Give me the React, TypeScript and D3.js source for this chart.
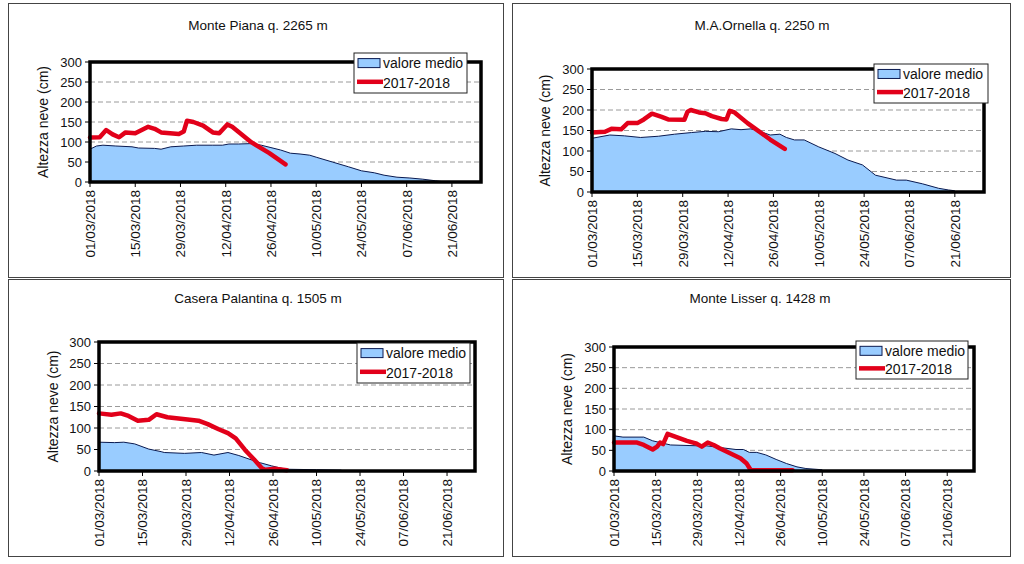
import React from "react";
import * as d3 from "d3";

// ---------- data (day offsets from 01/03/2018, snow depth in cm) ----------
const tickLabels = ["01/03/2018", "15/03/2018", "29/03/2018", "12/04/2018", "26/04/2018", "10/05/2018", "24/05/2018", "07/06/2018", "21/06/2018"];
const yTicks = [0, 50, 100, 150, 200, 250, 300];
const legendLabels = ["valore medio", "2017-2018"];

const titles = ["Monte Piana q. 2265 m", "M.A.Ornella q. 2250 m", "Casera Palantina q. 1505 m", "Monte Lisser q. 1428 m"];

const pianaAvgDays = [0, 2, 4, 8, 13, 15, 20, 22, 25, 29, 33, 38, 41, 43, 46, 50, 53, 56, 59, 62, 65, 68, 70, 75, 80, 84, 88, 91, 95, 99, 103, 107, 110];
const pianaAvgVals = [82, 90, 92, 90, 88, 85, 84, 82, 88, 90, 92, 92, 92, 95, 95, 96, 92, 86, 80, 72, 70, 67, 62, 50, 38, 28, 23, 17, 12, 10, 7, 3, 0];
const pianaRedDays = [0, 3, 5, 7, 9, 11, 14, 18, 20, 22, 27.5, 29, 30, 32, 35, 38, 40, 42.5, 44, 50, 55.5, 60.5];
const pianaRedVals = [111, 112, 130, 119, 112, 124, 122, 138, 133, 124, 120, 126, 153, 150, 141, 124, 122, 144, 138, 99, 72, 44];

const ornellaAvgDays = [0, 5.5, 10, 15, 20.5, 25.5, 30.7, 35, 39, 43, 46, 49, 51, 55, 58, 60, 62.5, 65.5, 70, 75, 79, 83.5, 87.5, 94, 97, 102, 107, 110, 112];
const ornellaAvgVals = [131, 139, 137, 133, 136, 141, 145, 148, 147, 154, 152, 154, 150, 139, 141, 133, 127, 127, 110, 94, 78, 66, 41, 29, 29, 20, 9, 5, 3];
const ornellaRedDays = [0, 4, 6, 9, 11, 14, 16, 18.5, 21.5, 23.5, 28.5, 29.5, 30.5, 33, 35, 37, 40, 41.5, 42.5, 44, 48, 51, 55, 59.5];
const ornellaRedVals = [145, 147, 154, 153, 168, 168, 177, 191, 183, 177, 176, 196, 200, 194, 192, 185, 178, 177, 198, 194, 168, 151, 128, 105];

const palantinaAvgDays = [0, 5, 8, 11.5, 16, 20, 21, 27.5, 33, 37, 41.5, 45, 49, 52, 55.5, 59, 61, 70, 78];
const palantinaAvgVals = [67, 66, 67, 63, 51, 45, 43, 41, 43, 37, 43, 36, 26, 19, 12, 6, 4, 3, 2];
const palantinaRedDays = [0, 4, 7, 9.5, 12.5, 16, 18.5, 22, 28.5, 32, 35, 38.5, 41.5, 44, 47, 50, 52.5, 53.5, 56.5, 60.5];
const palantinaRedVals = [134, 131, 134, 128, 117, 119, 132, 125, 120, 117, 109, 97, 88, 76, 49, 26, 6, 3, 5, 2];

const lisserAvgDays = [0, 3, 10, 13, 19, 28, 31, 41, 43.5, 45.5, 48, 51, 54.5, 58, 61.5, 64.5, 70];
const lisserAvgVals = [85, 82, 82, 73, 63, 61, 61, 52, 52, 45, 45, 39, 28, 18, 10, 6, 3];
const lisserRedDays = [0, 7.5, 10, 13, 14.5, 15.5, 16.5, 18, 21, 24.5, 27.5, 29.5, 31.5, 33.5, 35.5, 39, 42.5, 44.5, 46, 60];
const lisserRedVals = [69, 69, 63, 52, 59, 69, 65, 90, 82, 73, 67, 59, 69, 63, 55, 43, 31, 19, 2, 2];

// ---------- layout ----------
const layouts = [
  { frame: [8.5, 3.5, 503.5, 277.5], plot: [90, 62, 481, 182], title: [258, 25], ylab: [43], legend: [354, 53, 113, 40] },
  { frame: [512.5, 3.5, 1010.5, 277.5], plot: [592, 69, 984, 192], title: [762, 25], ylab: [545], legend: [874, 64, 114, 39] },
  { frame: [8.5, 279.5, 503.5, 556.5], plot: [99, 342, 475, 471], title: [258, 298], ylab: [53], legend: [357, 343, 113, 40] },
  { frame: [512.5, 279.5, 1010.5, 556.5], plot: [614, 347, 974, 471], title: [760, 298], ylab: [567], legend: [856, 341, 112, 38] },
];

const series = [
  { avgD: pianaAvgDays, avgV: pianaAvgVals, redD: pianaRedDays, redV: pianaRedVals },
  { avgD: ornellaAvgDays, avgV: ornellaAvgVals, redD: ornellaRedDays, redV: ornellaRedVals },
  { avgD: palantinaAvgDays, avgV: palantinaAvgVals, redD: palantinaRedDays, redV: palantinaRedVals },
  { avgD: lisserAvgDays, avgV: lisserAvgVals, redD: lisserRedDays, redV: lisserRedVals },
];

const FONT = "'Liberation Sans', Arial, Helvetica, sans-serif";
const start = new Date(Date.UTC(2018, 2, 1));
const end = new Date(Date.UTC(2018, 5, 30));
const dayDate = (d: number) => new Date(start.getTime() + d * 86400000);
const parseLabel = (s: string) => {
  const [dd, mm, yy] = s.split("/").map(Number);
  return new Date(Date.UTC(yy, mm - 1, dd));
};

function Panel({ idx }: { idx: number }) {
  const L = layouts[idx];
  const S = series[idx];
  const [px0, py0, px1, py1] = L.plot;
  const x = d3.scaleUtc().domain([start, end]).range([px0, px1]);
  const y = d3.scaleLinear().domain([0, 300]).range([py1, py0]);

  const avg = S.avgD.map((d, i) => ({ t: dayDate(d), v: S.avgV[i] }));
  const red = S.redD.map((d, i) => ({ t: dayDate(d), v: S.redV[i] }));
  const area = d3.area<{ t: Date; v: number }>().x((p) => x(p.t)).y0(y(0)).y1((p) => y(p.v));
  const line = d3.line<{ t: Date; v: number }>().x((p) => x(p.t)).y((p) => y(p.v));

  const [fx0, fy0, fx1, fy1] = L.frame;
  const [lx, ly, lw, lh] = L.legend;
  const ycenter = (py0 + py1) / 2;

  return (
    <g>
      <rect x={fx0} y={fy0} width={fx1 - fx0} height={fy1 - fy0} fill="#fff" stroke="#444" strokeWidth={1} />
      <text x={L.title[0]} y={L.title[1] + 5} textAnchor="middle" fontSize={13.5} fill="#111" fontFamily={FONT}>
        {titles[idx]}
      </text>
      {yTicks.filter((t) => t > 0 && t < 300).map((t) => (
        <line key={"g" + t} x1={px0} x2={px1} y1={y(t)} y2={y(t)} stroke="#9a9a9a" strokeWidth={1} strokeDasharray="5,3" />
      ))}
      <path d={area(avg) || ""} fill="#99CCFF" stroke="none" />
      <path d={line(avg) || ""} fill="none" stroke="#0a1a50" strokeWidth={1} />
      <path d={line(red) || ""} fill="none" stroke="#E2001A" strokeWidth={4.5} strokeLinejoin="round" strokeLinecap="round" />
      <rect x={px0} y={py0} width={px1 - px0} height={py1 - py0} fill="none" stroke="#000" strokeWidth={3.5} />
      {yTicks.map((t) => (
        <g key={"y" + t}>
          <line x1={px0 - 5} x2={px0} y1={y(t)} y2={y(t)} stroke="#000" strokeWidth={1} />
          <text x={px0 - 8} y={y(t)} dy="0.36em" textAnchor="end" fontSize={13} fill="#111" fontFamily={FONT}>
            {t}
          </text>
        </g>
      ))}
      {tickLabels.map((s) => {
        const tx = x(parseLabel(s));
        return (
          <g key={s}>
            <line x1={tx} x2={tx} y1={py1} y2={py1 + 5} stroke="#000" strokeWidth={1} />
            <text
              transform={`translate(${tx},${py1 + 8}) rotate(-90)`}
              dy="0.36em"
              textAnchor="end"
              fontSize={13.5}
              fill="#111"
              fontFamily={FONT}
            >
              {s}
            </text>
          </g>
        );
      })}
      <text
        transform={`translate(${L.ylab[0]},${ycenter}) rotate(-90)`}
        dy="0.36em"
        textAnchor="middle"
        fontSize={14}
        fill="#111"
        fontFamily={FONT}
      >
        Altezza neve (cm)
      </text>
      <rect x={lx} y={ly} width={lw} height={lh} fill="#fff" stroke="#222" strokeWidth={1} />
      <rect x={lx + 4} y={ly + lh * 0.14} width={22} height={9} fill="#99CCFF" stroke="#0a1a50" strokeWidth={1} />
      <text x={lx + 29} y={ly + lh * 0.25} dy="0.36em" fontSize={14} fill="#111" fontFamily={FONT}>
        {legendLabels[0]}
      </text>
      <line x1={lx + 3} x2={lx + 29} y1={ly + lh * 0.72} y2={ly + lh * 0.72} stroke="#E2001A" strokeWidth={4.5} />
      <text x={lx + 29} y={ly + lh * 0.74} dy="0.36em" fontSize={14} fill="#111" fontFamily={FONT}>
        {legendLabels[1]}
      </text>
    </g>
  );
}

export default function App() {
  return (
    <svg width={1024} height={564} style={{ position: "absolute", left: 0, top: 0, background: "#fff" }}>
      <rect x={0} y={0} width={1024} height={564} fill="#fff" />
      {[0, 1, 2, 3].map((i) => (
        <Panel key={i} idx={i} />
      ))}
    </svg>
  );
}
